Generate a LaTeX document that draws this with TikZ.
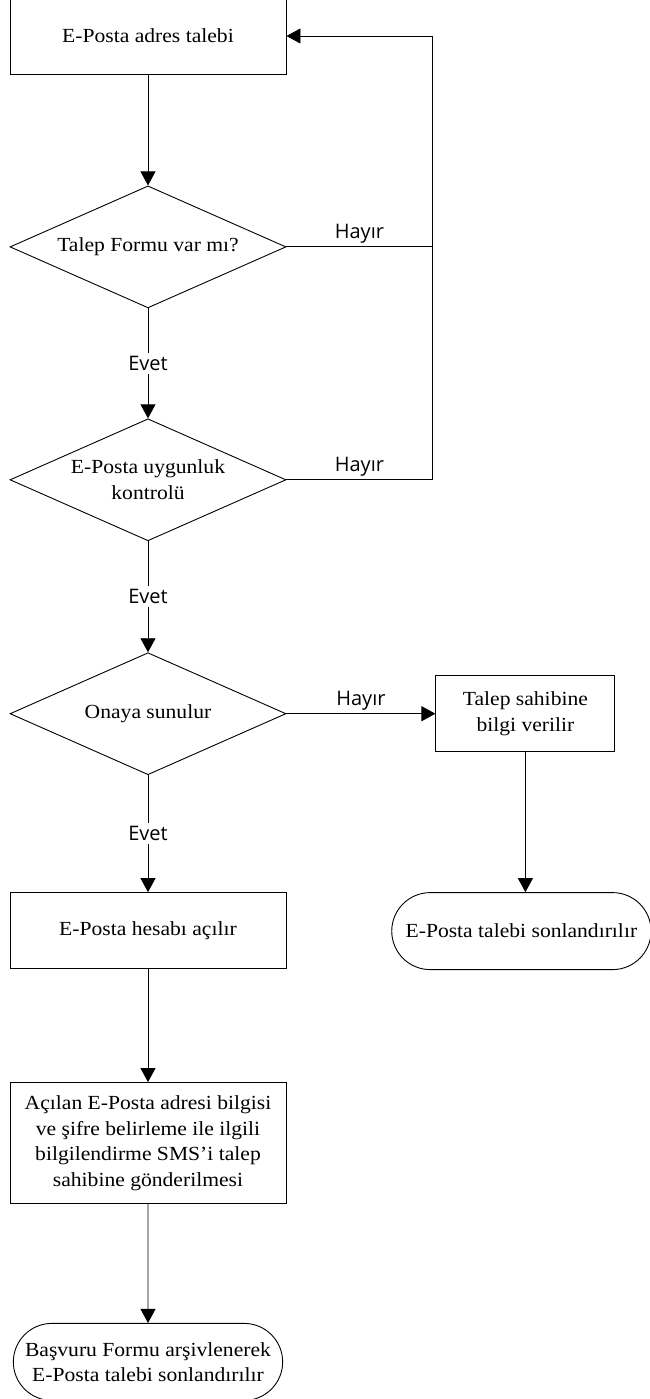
\documentclass[tikz,border=0pt]{standalone}
\usepackage{fontspec}
\setmainfont{Liberation Serif}[FakeStretch=1.08]
\newfontfamily\etiketfont{Open Sans}
\usepackage{tikz}
\usetikzlibrary{positioning, shapes.geometric, shapes.misc, arrows.meta}

\begin{document}
\begin{tikzpicture}[x=1pt, y=-1pt, line width=0.9pt,
        kutu/.style={draw, rectangle, minimum width=276pt, minimum height=76pt, align=center, font=\fontsize{20}{25.5}\selectfont},
        karar/.style={draw, diamond, aspect=2.26, inner sep=0pt, minimum width=276pt, minimum height=122pt, align=center, font=\fontsize{20}{25.5}\selectfont},
        bitis/.style={draw, rounded rectangle, minimum height=77pt, align=center, font=\fontsize{20}{25.5}\selectfont},
        ok/.style={-{Triangle[width=15pt,length=14pt]}},
        cevap/.style={font=\etiketfont\fontsize{20}{24}\selectfont}]
        \useasboundingbox (0,0) rectangle (650,1399);

        % Create main flow
        \node[kutu] (adres) at (148,36) {E-Posta adres talebi};
        \node[karar, below=111pt of adres] (formu) {Talep Formu var mı?};
        \node[karar, below=110pt of formu] (uygun) {E-Posta uygunluk\\kontrolü};
        \node[karar, below=111pt of uygun] (onay) {Onaya sunulur};
        \node[kutu, below=117pt of onay] (hesap) {E-Posta hesabı açılır};
        \node[kutu, minimum height=121pt, below=113pt of hesap] (sms) {Açılan E-Posta adresi bilgisi\\ve şifre belirleme ile ilgili\\bilgilendirme SMS’i talep\\sahibine gönderilmesi};
        \node[bitis, minimum width=276pt, below=119pt of sms] (arsiv) {Başvuru Formu arşivlenerek\\E-Posta talebi sonlandırılır};

        % Create rejection branch
        \node[kutu, minimum width=179pt, right=149pt of onay] (bilgi) {Talep sahibine\\bilgi verilir};
        \node[bitis, minimum width=266pt, below=140pt of bilgi, xshift=-4pt] (talepson) {E-Posta talebi sonlandırılır};
        \coordinate[right=146pt of adres.east] (donus);

        % Draw arrows between them
        \draw[ok] (adres) -- (formu);
        \draw[ok] (formu) -- node[cevap, fill=white] {Evet} (uygun);
        \draw[ok] (uygun) -- node[cevap, fill=white] {Evet} (onay);
        \draw[ok] (onay) -- node[cevap, fill=white] {Evet} (hesap);
        \draw[ok] (hesap) -- (sms);
        \draw[ok] (sms) -- (arsiv);
        \draw[ok] (onay) -- node[cevap, above] {Hayır} (bilgi);
        \draw[ok] (bilgi.south) -- (bilgi.south |- talepson.north);
        \draw (formu.east) -- node[cevap, above] {Hayır} (formu.east -| donus);
        \draw[ok] (uygun.east) -- node[cevap, above] {Hayır} (uygun.east -| donus) -- (donus) -- (adres.east);
    \end{tikzpicture}
\end{document}
